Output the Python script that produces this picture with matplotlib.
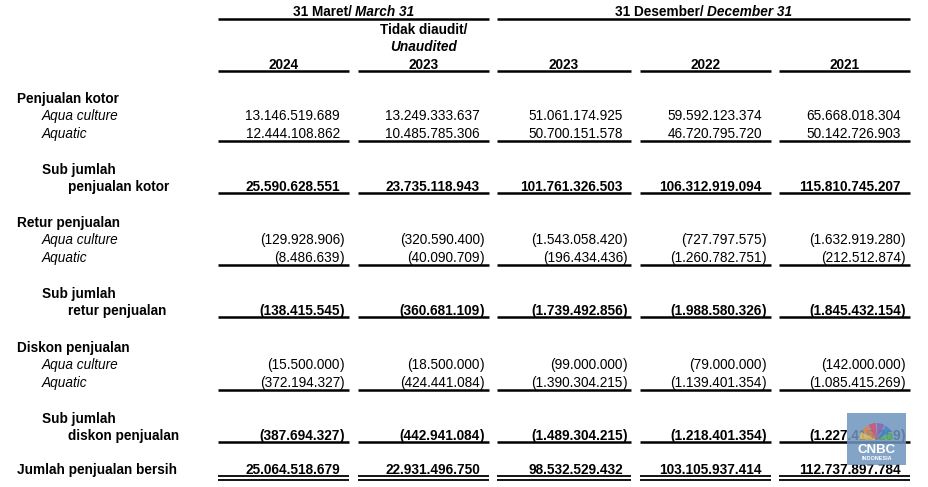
import matplotlib.pyplot as plt
from matplotlib.patches import Rectangle, Wedge

plt.rcParams['font.family'] = ['Liberation Sans', 'DejaVu Sans']

# data (Rupiah)
years = ['2024', '2023', '2023', '2022', '2021']
aqua_kotor = [13146519689, 13249333637, 51061174925, 59592123374, 65668018304]
aquatic_kotor = [12444108862, 10485785306, 50700151578, 46720795720, 50142726903]
sub_kotor = [25590628551, 23735118943, 101761326503, 106312919094, 115810745207]
aqua_retur = [-129928906, -320590400, -1543058420, -727797575, -1632919280]
aquatic_retur = [-8486639, -40090709, -196434436, -1260782751, -212512874]
sub_retur = [-138415545, -360681109, -1739492856, -1988580326, -1845432154]
aqua_diskon = [-15500000, -18500000, -99000000, -79000000, -142000000]
aquatic_diskon = [-372194327, -424441084, -1390304215, -1139401354, -1085415269]
sub_diskon = [-387694327, -442941084, -1489304215, -1218401354, -1227415269]
bersih = [25064518679, 22931496750, 98532529432, 103105937414, 112737897784]

W, H = 929, 487
fig = plt.figure(figsize=(W / 100, H / 100), dpi=100)
ax = fig.add_axes([0, 0, 1, 1])
ax.set_xlim(0, W)
ax.set_ylim(H, 0)
ax.axis('off')

fs = 9.8
dy = 1.6  # text sits a little lower than its bbox centre
col_l = [218, 358, 497, 640, 779]
col_r = [349, 489, 631, 771, 910]
num_r = [340, 480, 623, 762, 901]


def T(x, y, s, **kw):
    kw.setdefault('va', 'center')
    kw.setdefault('fontsize', fs)
    return ax.text(x, y + dy, s, **kw)


def fmt(v):
    return f"{abs(v):,}".replace(',', '.')


def put_nums(vals, y, bold=False):
    w = 'bold' if bold else 'normal'
    for i, v in enumerate(vals):
        if v < 0:
            T(num_r[i], y, '(' + fmt(v), ha='right', fontweight=w)
            T(num_r[i], y, ')', ha='left', fontweight=w)
        else:
            T(num_r[i], y, fmt(v), ha='right', fontweight=w)


def underline(y, lw=1.8):
    for a, b in zip(col_l, col_r):
        ax.plot([a, b], [y, y], color='black', lw=lw, solid_capstyle='butt')


def mixed(cx, y, t1, t2):
    r = fig.canvas.get_renderer()
    a = T(0, y, t1, fontweight='bold')
    b = T(0, y, t2, fontweight='bold', style='italic')
    w1 = a.get_window_extent(r).width
    w2 = b.get_window_extent(r).width
    x0 = cx - (w1 + w2) / 2
    a.set_x(x0)
    b.set_x(x0 + w1)


# headers
mixed(353.5, 10, '31 Maret/ ', 'March 31')
mixed(703.5, 10, '31 Desember/ ', 'December 31')
ax.plot([218, 489], [19, 19], color='black', lw=1.8, solid_capstyle='butt')
ax.plot([497, 910], [19, 19], color='black', lw=1.8, solid_capstyle='butt')
T(423.5, 28, 'Tidak diaudit/', ha='center', fontweight='bold')
T(423.5, 45, 'Unaudited', ha='center', fontweight='bold', style='italic')
for i, yr in enumerate(years):
    T((col_l[i] + col_r[i]) / 2, 63, yr, ha='center', fontweight='bold')
underline(71)

# sections
sections = [
    ('Penjualan kotor', 'penjualan kotor', aqua_kotor, aquatic_kotor, sub_kotor, 97),
    ('Retur penjualan', 'retur penjualan', aqua_retur, aquatic_retur, sub_retur, 221),
    ('Diskon penjualan', 'diskon penjualan', aqua_diskon, aquatic_diskon, sub_diskon, 346),
]
for title, subname, a1, a2, st, y0 in sections:
    T(17, y0, title, fontweight='bold')
    T(42, y0 + 17.5, 'Aqua culture', style='italic')
    T(42, y0 + 35, 'Aquatic', style='italic')
    put_nums(a1, y0 + 17.5)
    put_nums(a2, y0 + 35)
    underline(y0 + 44)
    T(42, y0 + 71, 'Sub jumlah', fontweight='bold')
    T(68, y0 + 88.5, subname, fontweight='bold')
    put_nums(st, y0 + 88.5, bold=True)
    underline(y0 + 96)

T(17, 468, 'Jumlah penjualan bersih', fontweight='bold')
put_nums(bersih, 468, bold=True)
underline(475.5, lw=1.3)
underline(479.5, lw=1.3)

# watermark
ax.add_patch(Rectangle((847, 413), 59, 52, color='#6f94bd', alpha=0.85, lw=0, zorder=5))
fan = ['#f5c242', '#ef7d31', '#e0435f', '#8e5aa8', '#3f7fc4', '#5bb55a']
for k, c in enumerate(fan):
    ax.add_patch(Wedge((876.5, 440), 17, 180 + k * 30 + 2, 180 + (k + 1) * 30 - 2,
                       color=c, alpha=0.7, lw=0, zorder=6))
ax.text(876.5, 450, 'CNBC', ha='center', va='center', fontsize=9.5, fontweight='heavy',
        color='white', zorder=7)
ax.text(876.5, 459, 'INDONESIA', ha='center', va='center', fontsize=4, fontweight='bold',
        color='white', zorder=7)

fig.savefig('out.png', dpi=100, facecolor='white')
